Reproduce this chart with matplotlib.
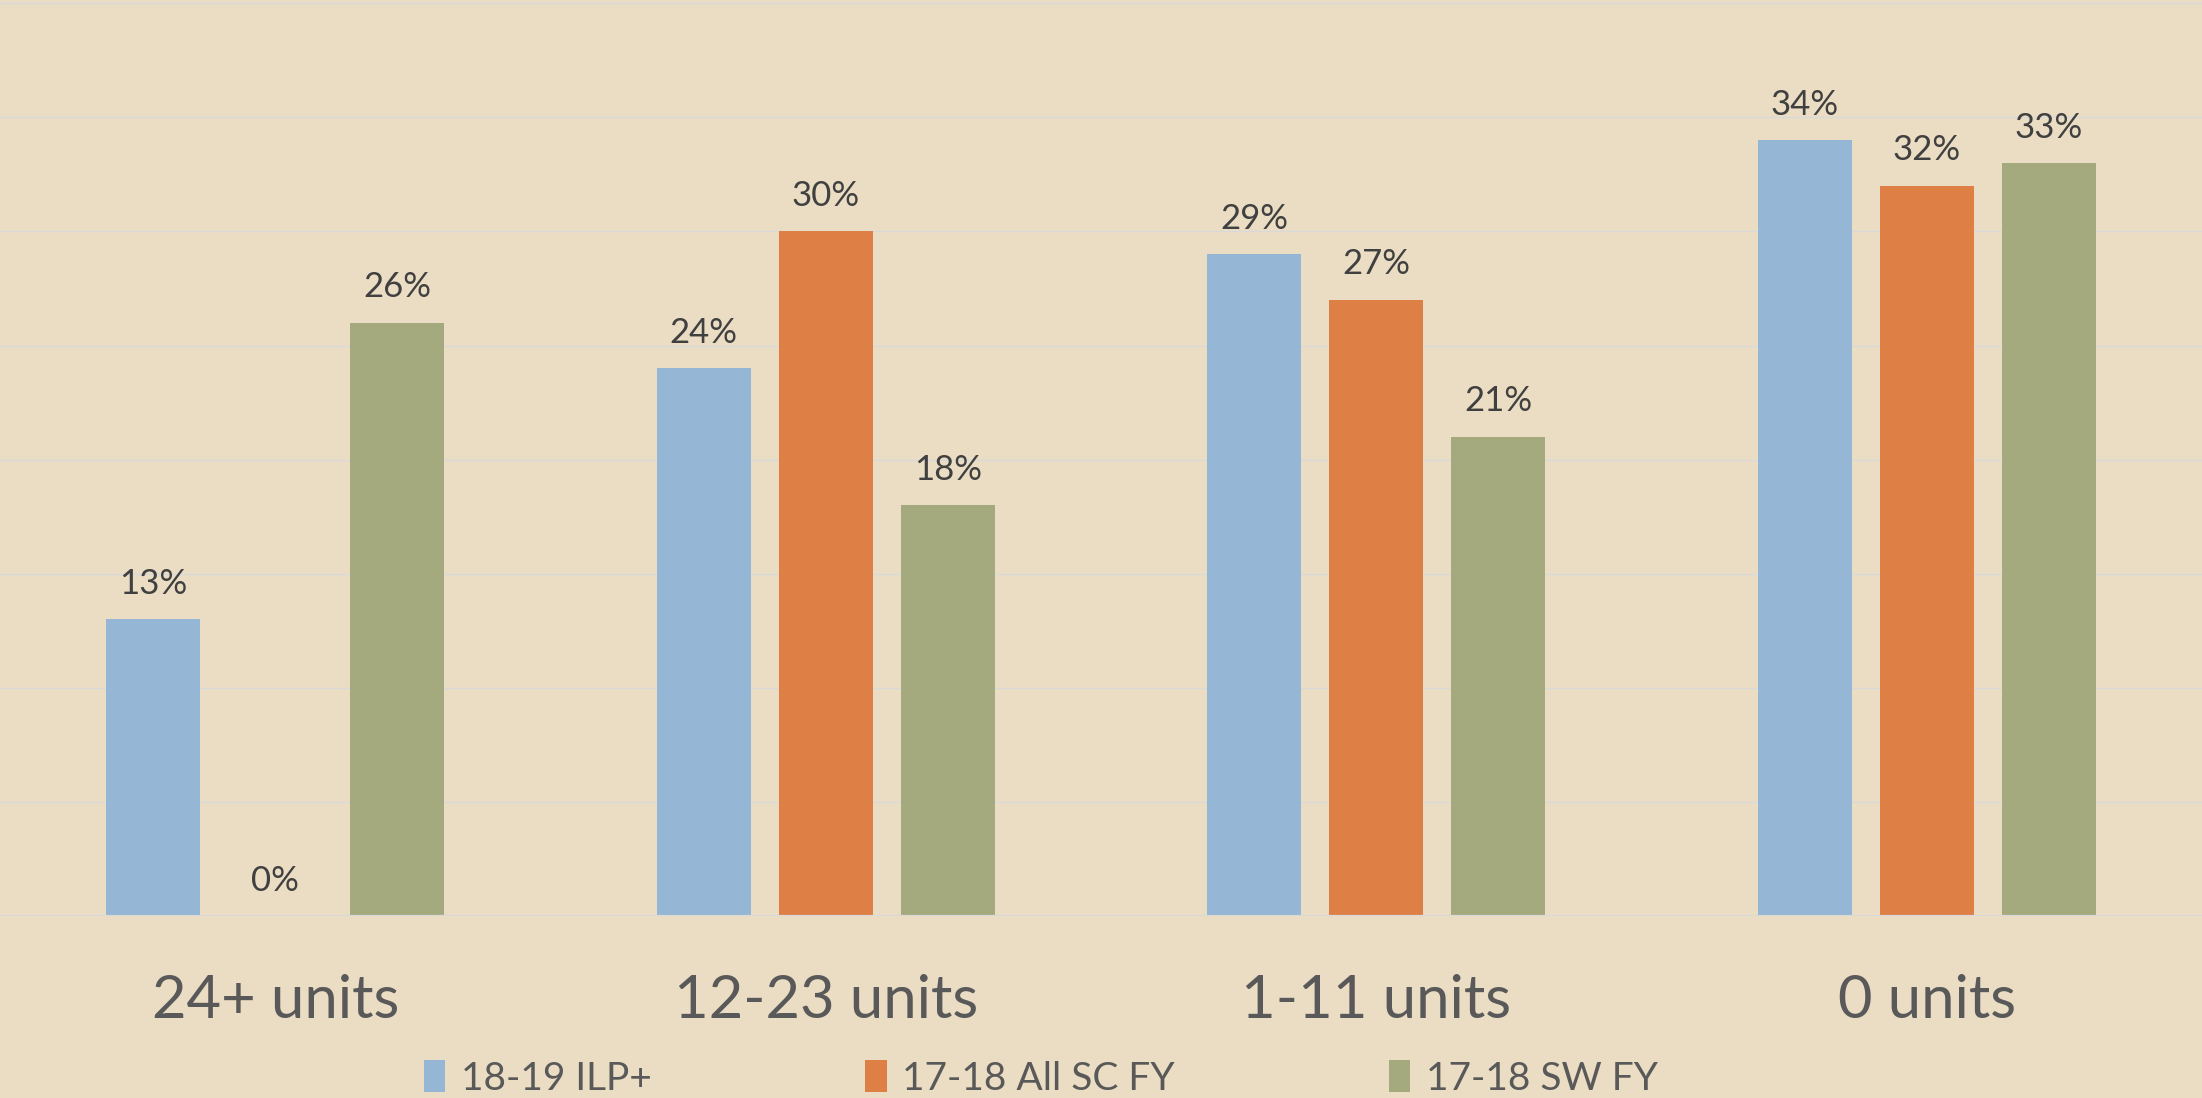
import numpy as np
import matplotlib
matplotlib.use("Agg")
import matplotlib.pyplot as plt

# datos
categorias = ["24+ units", "12-23 units", "1-11 units", "0 units"]
series = ["18-19 ILP+", "17-18 All SC FY", "17-18 SW FY"]
ilp = [13, 24, 29, 34]
all_sc = [0, 30, 27, 32]
sw_fy = [26, 18, 21, 33]
valores = [ilp, all_sc, sw_fy]
colores = ["#95B6D4", "#DE7F46", "#A5AA7E"]

fondo = "#EBDDC3"
plt.rcParams['font.family'] = ['Lato', 'DejaVu Sans']

fig = plt.figure(figsize=(22.02, 10.98), dpi=100, facecolor=fondo)
ax = fig.add_axes([0, 0.1658, 1, 0.8333])
ax.set_facecolor(fondo)

x = np.arange(len(categorias))
ancho = 0.1705
paso = 0.2215

for i, (serie, vals, col) in enumerate(zip(series, valores, colores)):
    pos = x + (i - 1) * paso
    barras = ax.bar(pos, vals, width=ancho, color=col, label=serie, zorder=3)
    for b, v in zip(barras, vals):
        ax.annotate(f"{v}%", (b.get_x() + b.get_width() / 2, v),
                    xytext=(0, 14), textcoords="offset points",
                    ha="center", va="bottom", fontsize=25, color="#404040")

ax.set_xlim(-0.5, 3.5)
ax.set_ylim(0, 40.1)
ax.set_yticks(np.arange(5, 45, 5))
ax.yaxis.grid(True, color="#D9D9D9", linewidth=1.0, zorder=0)
ax.axhline(0, color="#D9D9D9", linewidth=1.6, zorder=4)
ax.set_axisbelow(True)
for s in ax.spines.values():
    s.set_visible(False)
ax.tick_params(axis="y", left=False, labelleft=False)
ax.tick_params(axis="x", bottom=False, pad=38)
ax.set_xticks(x)
ax.set_xticklabels(categorias, fontsize=43, color="#595959")

# leyenda un poco a la izquierda del centro, como en el original
fig.legend(loc="center", bbox_to_anchor=(0.4726, 0.018), ncol=3, frameon=False,
           fontsize=28, labelcolor="#595959", handlelength=0.55, handleheight=0.9,
           handletextpad=0.4, columnspacing=5.5, borderaxespad=0)

fig.savefig("out.png", dpi=100, facecolor=fondo)
